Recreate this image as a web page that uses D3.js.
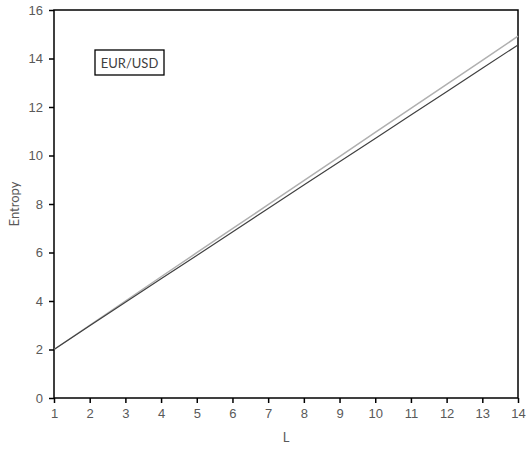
<html>
<head>
<script src="https://d3js.org/d3.v7.min.js"></script>
<style>
body { margin: 0; background: #fff; }
svg { font-family: Lato, "Open Sans", sans-serif; }
.axis text { fill: #595959; font-size: 13px; }
.axis path, .axis line { stroke: #000; stroke-width: 1.5; }
</style>
</head>
<body>
<div id="chart"></div>
<script>
// data
var lengths = [1, 2, 3, 4, 5, 6, 7, 8, 9, 10, 11, 12, 13, 14];
var entropyGray = [2.0, 3.0, 4.0, 5.0, 5.99, 6.98, 7.97, 8.96, 9.95, 10.95, 11.94, 12.93, 13.92, 14.92];
var entropyDark = [2.0, 2.98, 3.95, 4.92, 5.88, 6.85, 7.81, 8.78, 9.74, 10.70, 11.67, 12.63, 13.60, 14.56];
var yTicks = [0, 2, 4, 6, 8, 10, 12, 14, 16];
var seriesLabel = "EUR/USD";

var width = 530, height = 450;
var margin = {top: 10, right: 12, bottom: 52, left: 54};

var svg = d3.select("#chart").append("svg")
    .attr("width", width)
    .attr("height", height);

var x = d3.scaleLinear().domain([1, 14]).range([margin.left, width - margin.right]);
var y = d3.scaleLinear().domain([0, 16]).range([height - margin.bottom, margin.top]);

// frame
svg.append("rect")
    .attr("x", x(1)).attr("y", y(16))
    .attr("width", x(14) - x(1)).attr("height", y(0) - y(16))
    .attr("fill", "none").attr("stroke", "#000").attr("stroke-width", 1.5);

var line = d3.line()
    .x((d, i) => x(lengths[i]))
    .y(d => y(d));

svg.append("path").datum(entropyGray)
    .attr("d", line).attr("fill", "none")
    .attr("stroke", "#b0b0b0").attr("stroke-width", 1.5);

svg.append("path").datum(entropyDark)
    .attr("d", line).attr("fill", "none")
    .attr("stroke", "#404040").attr("stroke-width", 1.2);

svg.append("g")
    .attr("class", "axis")
    .attr("transform", `translate(0, ${y(0)})`)
    .call(d3.axisBottom(x).tickValues(lengths).tickSize(5).tickPadding(6).tickFormat(d3.format("d")))
    .call(g => g.select(".domain").remove());

svg.append("g")
    .attr("class", "axis")
    .attr("transform", `translate(${x(1)}, 0)`)
    .call(d3.axisLeft(y).tickValues(yTicks).tickSize(5).tickPadding(6))
    .call(g => g.select(".domain").remove());

svg.append("text")
    .attr("x", (x(1) + x(14)) / 2)
    .attr("y", 442)
    .attr("text-anchor", "middle")
    .attr("fill", "#595959")
    .style("font-size", "13px")
    .text("L");

svg.append("text")
    .attr("transform", `translate(19, ${(y(0) + y(16)) / 2}) rotate(-90)`)
    .attr("text-anchor", "middle")
    .attr("fill", "#595959")
    .style("font-size", "13px")
    .text("Entropy");

// label box
var lbl = svg.append("g").attr("transform", "translate(95, 50)");
lbl.append("rect")
    .attr("width", 69).attr("height", 25)
    .attr("fill", "#fff").attr("stroke", "#000").attr("stroke-width", 1.3);
lbl.append("text")
    .attr("x", 34.5).attr("y", 17.5)
    .attr("text-anchor", "middle")
    .attr("fill", "#404040")
    .style("font-size", "13px")
    .text(seriesLabel);
</script>
</body>
</html>
